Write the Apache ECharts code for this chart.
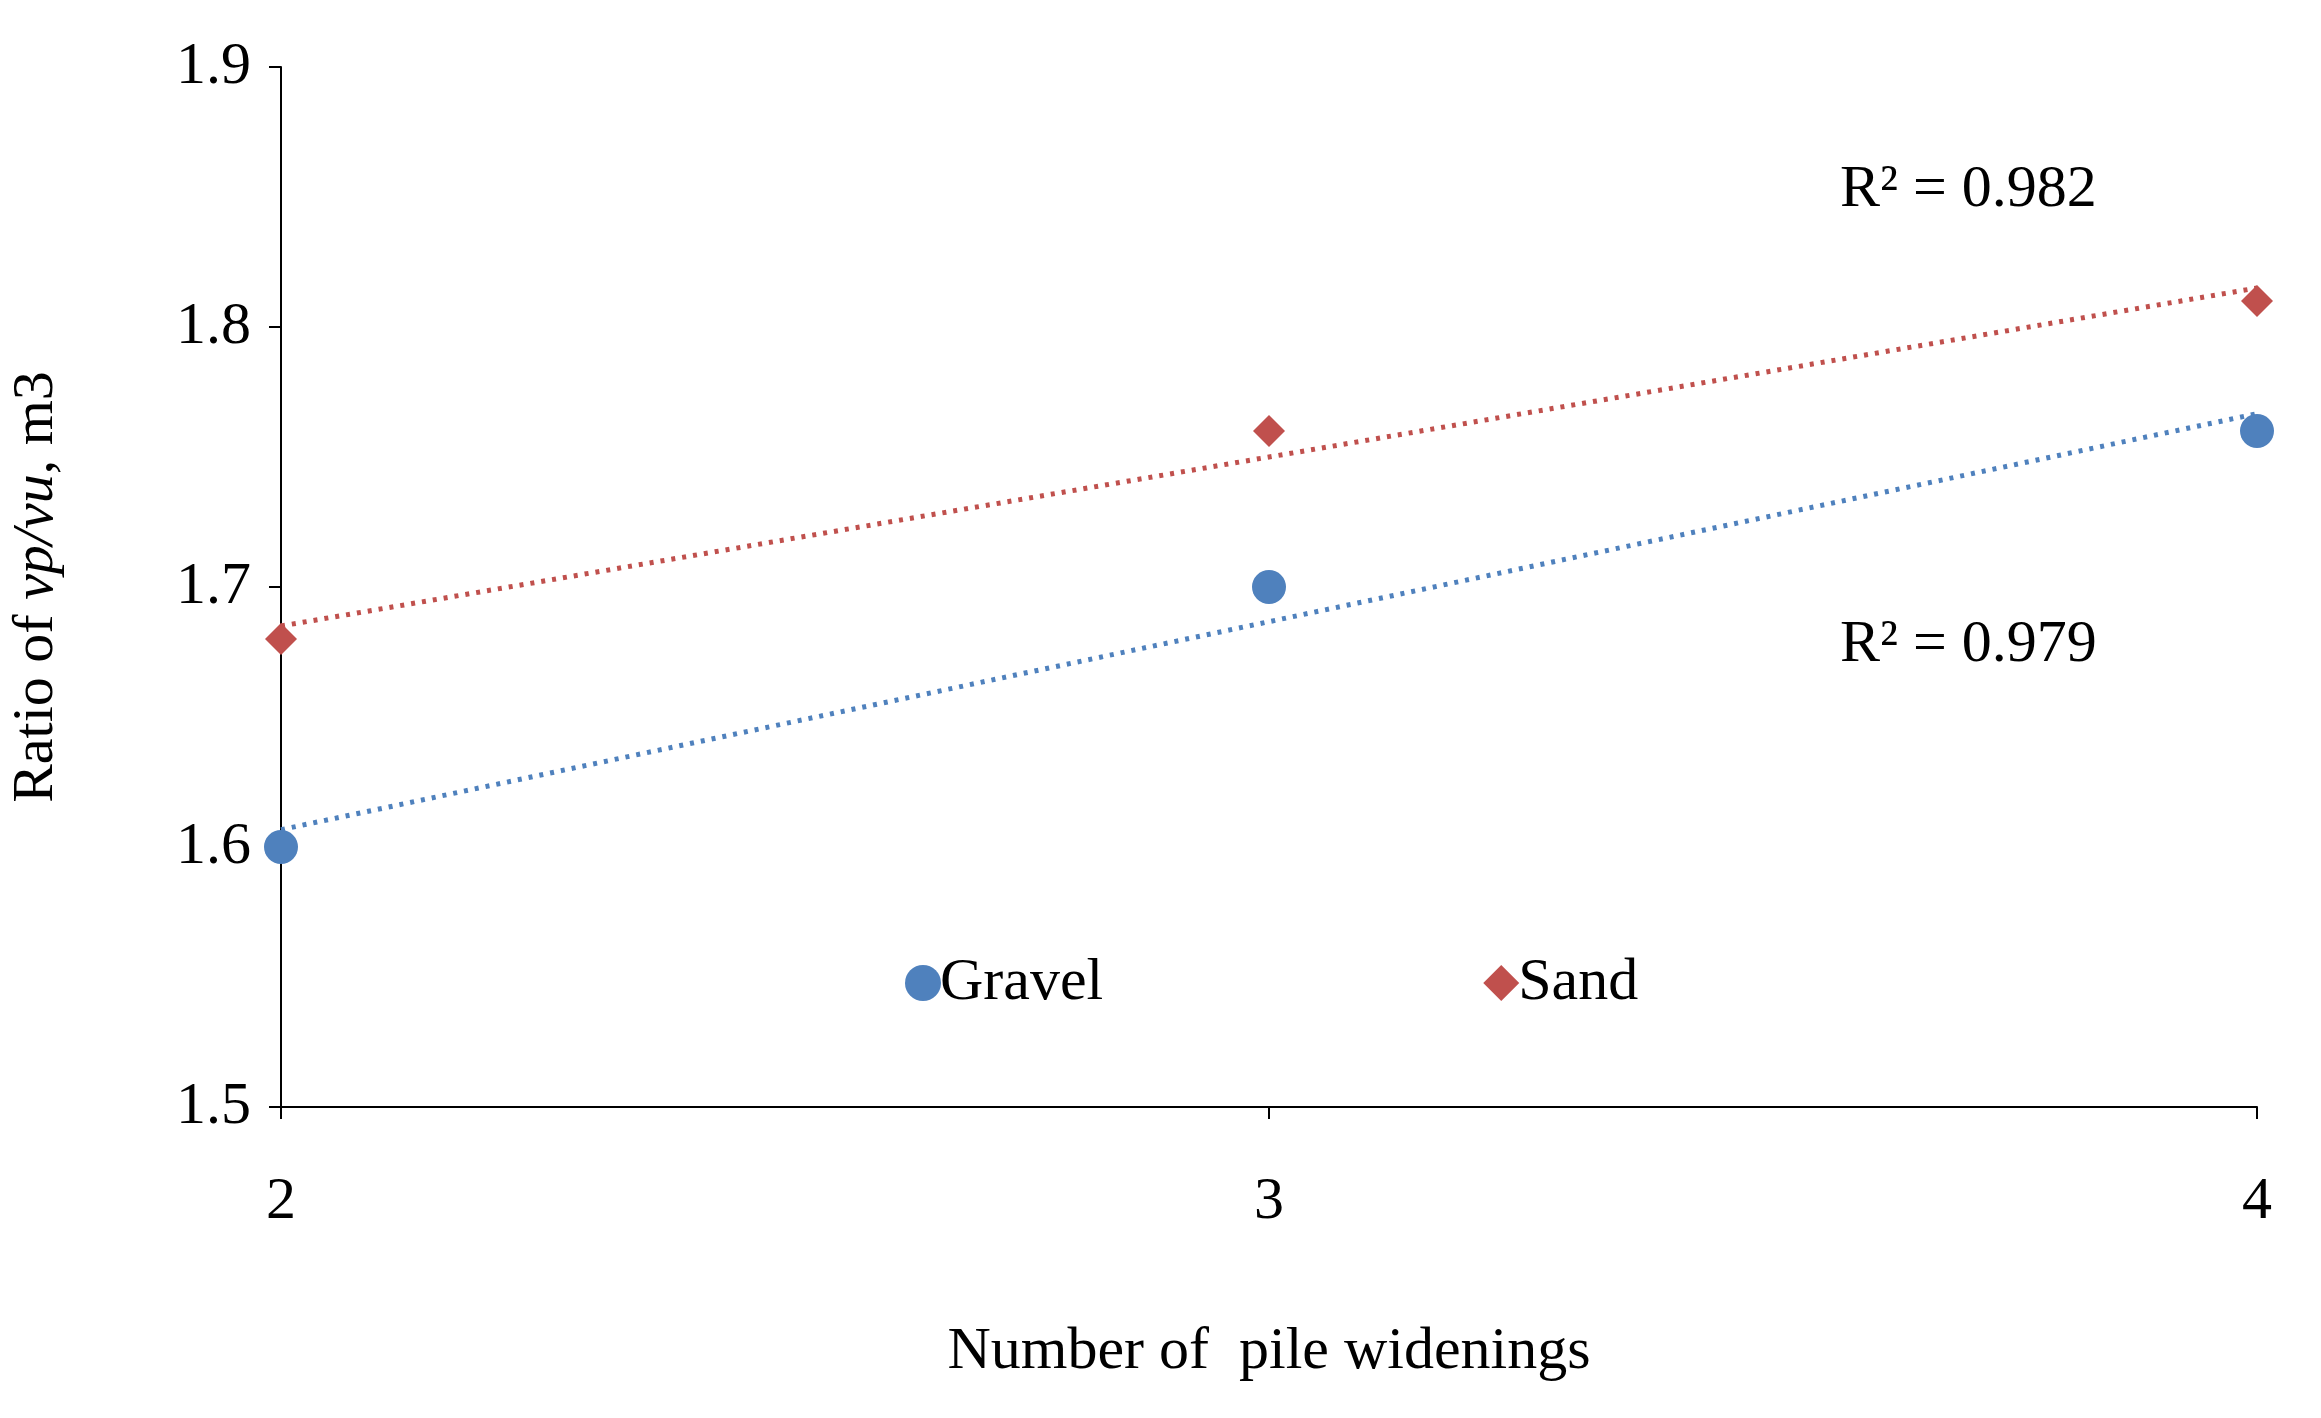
<!DOCTYPE html>
<html><head><meta charset="utf-8">
<script src="https://cdn.jsdelivr.net/npm/echarts@6/dist/echarts.min.js"></script>
<style>html,body{margin:0;background:#fff}#c{width:2321px;height:1418px}</style>
</head><body><div id="c"></div>
<script>
const xValues = [2, 3, 4];
const gravel = [1.60, 1.70, 1.76];
const sand = [1.68, 1.76, 1.81];
const r2Labels = ['R² = 0.982', 'R² = 0.979'];

function fit(xs, ys) {
  const n = xs.length, mx = xs.reduce((a,b)=>a+b)/n, my = ys.reduce((a,b)=>a+b)/n;
  let sxy=0, sxx=0; xs.forEach((x,i)=>{sxy+=(x-mx)*(ys[i]-my); sxx+=(x-mx)**2;});
  const b = sxy/sxx, a = my-b*mx;
  return [[xs[0], a+b*xs[0]], [xs[n-1], a+b*xs[n-1]]];
}
const F = 'Liberation Serif';
const chart = echarts.init(document.getElementById('c'));
chart.setOption({
  animation:false,
  textStyle:{fontFamily:F, color:'#000'},
  grid:{left:278, right:64, top:67, bottom:311},
  xAxis:{type:'value', min:2, max:4, interval:1,
    name:'Number of  pile widenings', nameLocation:'middle', nameGap:215,
    nameTextStyle:{fontFamily:F, fontSize:60, color:'#000'},
    axisLine:{lineStyle:{color:'#000', width:2}}, axisTick:{length:12, lineStyle:{color:'#000', width:2}},
    axisLabel:{fontFamily:F, fontSize:60, color:'#000', margin:65}, splitLine:{show:false}},
  yAxis:{type:'value', min:1.5, max:1.9, interval:0.1,
    name:'{n|Ratio of }{i|vp/vu}{n|, m3}', nameLocation:'middle', nameGap:215,
    nameTextStyle:{rich:{n:{fontFamily:F, fontSize:58, color:'#000'}, i:{fontFamily:F, fontSize:58, fontStyle:'italic', color:'#000'}}},
    axisLine:{show:true, lineStyle:{color:'#000', width:2}}, axisTick:{show:true, length:12, lineStyle:{color:'#000', width:2}},
    axisLabel:{fontFamily:F, fontSize:60, color:'#000', margin:30, formatter:v=>v.toFixed(1)}, splitLine:{show:false}},
  legend:{left:900, top:948, itemGap:380, itemWidth:36, itemHeight:36,
    textStyle:{fontFamily:F, fontSize:60, color:'#000', padding:[0,0,0,-6]},
    data:[{name:'Gravel', icon:'circle'},{name:'Sand', icon:'diamond'}]},
  series:[
    {name:'Gravel', type:'scatter', symbol:'circle', symbolSize:34, itemStyle:{color:'#4f81bd', opacity:1}, data:xValues.map((x,i)=>[x,gravel[i]]), z:3},
    {name:'Sand', type:'scatter', symbol:'diamond', symbolSize:32, itemStyle:{color:'#c0504d', opacity:1}, data:xValues.map((x,i)=>[x,sand[i]]), z:3},
    {name:'gt', type:'line', showSymbol:false, silent:true, data:fit(xValues,gravel), lineStyle:{color:'#4f81bd', width:5, type:[4,7]}, z:2},
    {name:'st', type:'line', showSymbol:false, silent:true, data:fit(xValues,sand), lineStyle:{color:'#c0504d', width:5, type:[4,7]}, z:2}
  ],
  graphic:[
    {type:'text', left:1840, top:160, style:{text:r2Labels[0], font:'60px "Liberation Serif"', fill:'#000'}},
    {type:'text', left:1840, top:615, style:{text:r2Labels[1], font:'60px "Liberation Serif"', fill:'#000'}}
  ]
});
</script></body></html>
